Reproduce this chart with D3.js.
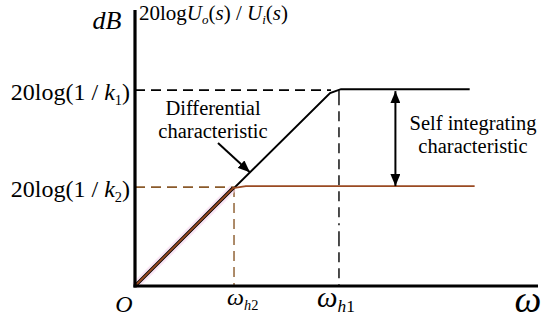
<!DOCTYPE html>
<html><head><meta charset="utf-8">
<script src="https://cdn.jsdelivr.net/npm/d3@7"></script>
<style>html,body{margin:0;padding:0;background:#fff;}svg{display:block;}</style>
</head><body>
<svg id="c" width="550" height="324"></svg>
<script>
// ---- data (normalized units: ω_h2 = 1, 20log(1/k2) = 1) ----
const freqNames = ["h2", "h1"];
const freqValues = [1.0, 2.06];
const levelNames = ["2", "1"];
const levelValues = [1.0, 1.98];
const blackCurve = [[0,0],[1.97,1.95],[2.08,1.99],[3.38,1.99]];
const redCurve = [[0,0],[0.99,0.99],[1.12,1.01],[3.43,1.01]];
const xMax = 4.07, yMax = 2.79;

const svg = d3.select("#c");
const x = d3.scaleLinear().domain([0, xMax]).range([135, 538]);
const y = d3.scaleLinear().domain([0, yMax]).range([286, 10]);
const serif = "'Liberation Serif','Times New Roman',serif";
const brown = "#9a4a22";
const dashBrown = "#8a5a2a";

// dashed guide lines
svg.append("line").attr("x1", x(0)).attr("x2", x(freqValues[1]) - 8)
  .attr("y1", y(levelValues[1])).attr("y2", y(levelValues[1]))
  .attr("stroke", "#000").attr("stroke-width", 1.6).attr("stroke-dasharray", "10,6");
svg.append("line").attr("x1", x(0)).attr("x2", x(freqValues[0]))
  .attr("y1", y(levelValues[0])).attr("y2", y(levelValues[0]))
  .attr("stroke", dashBrown).attr("stroke-width", 1.6).attr("stroke-dasharray", "10,6");
svg.append("line").attr("x1", x(freqValues[0])).attr("x2", x(freqValues[0]))
  .attr("y1", y(levelValues[0])).attr("y2", y(0))
  .attr("stroke", dashBrown).attr("stroke-width", 1.4).attr("stroke-dasharray", "10,6");
svg.append("line").attr("x1", x(freqValues[1])).attr("x2", x(freqValues[1]))
  .attr("y1", y(levelValues[1])).attr("y2", y(0))
  .attr("stroke", "#000").attr("stroke-width", 1.4).attr("stroke-dasharray", "15,6,10,6,10,6,10,6,10,6,10,6,10,6,10,6,2,6");

const line = d3.line().x(d => x(d[0])).y(d => y(d[1])).curve(d3.curveLinear);
svg.append("path").attr("d", line(blackCurve)).attr("fill", "none")
  .attr("stroke", "#000").attr("stroke-width", 2);
svg.append("path").attr("d", line(redCurve.slice(0,2))).attr("fill", "none")
  .attr("stroke", "#f6d6ee").attr("stroke-width", 8).attr("opacity", 0.6);
svg.append("path").attr("d", line(redCurve.slice(0,2))).attr("fill", "none")
  .attr("stroke", "#000").attr("stroke-width", 3.4);
svg.append("path").attr("d", line(redCurve)).attr("fill", "none")
  .attr("stroke", brown).attr("stroke-width", 1.8);

// axes
svg.append("line").attr("x1", x(0)).attr("x2", x(0)).attr("y1", y(yMax)).attr("y2", y(0) + 1.5)
  .attr("stroke", "#000").attr("stroke-width", 3.2);
svg.append("line").attr("x1", x(0) - 1.5).attr("x2", x(xMax)).attr("y1", y(0)).attr("y2", y(0))
  .attr("stroke", "#000").attr("stroke-width", 3.2);

// arrows
const defs = svg.append("defs");
defs.append("marker").attr("id", "ah").attr("viewBox", "0 0 12 10").attr("refX", 12).attr("refY", 5)
  .attr("markerWidth", 12).attr("markerHeight", 10).attr("markerUnits", "userSpaceOnUse").attr("orient", "auto-start-reverse")
  .append("path").attr("d", "M0,0 L12,5 L0,10 Z").attr("fill", "#000");
const ax = x(2.63);
svg.append("line").attr("x1", ax).attr("x2", ax).attr("y1", y(levelValues[1]) + 1).attr("y2", y(levelValues[0]) - 1)
  .attr("stroke", "#000").attr("stroke-width", 2)
  .attr("marker-start", "url(#ah)").attr("marker-end", "url(#ah)");
svg.append("line").attr("x1", 218).attr("y1", 143).attr("x2", x(1.16)).attr("y2", y(1.15))
  .attr("stroke", "#000").attr("stroke-width", 2).attr("marker-end", "url(#ah)");

// texts
function mathLabel(xp, yp, sub, anchor, size) {
  const t = svg.append("text").attr("x", xp).attr("y", yp).attr("text-anchor", anchor)
    .attr("font-family", serif).attr("font-size", size).attr("fill", "#000");
  t.append("tspan").text("20log(1 / ");
  t.append("tspan").attr("font-style", "italic").text("k");
  t.append("tspan").attr("font-size", size * 0.6).attr("dy", 5).text(sub);
  t.append("tspan").attr("dy", -5).text(")");
}
levelValues.forEach((v, i) => mathLabel(130, y(v) + 10, levelNames[i], "end", 24));

svg.append("text").attr("x", 107).attr("y", 29).attr("text-anchor", "middle")
  .attr("font-family", serif).attr("font-style", "italic").attr("font-size", 26).text("dB");
const tt = svg.append("text").attr("x", 139).attr("y", 20).attr("font-family", serif).attr("font-size", 21);
tt.append("tspan").text("20log");
tt.append("tspan").attr("font-style", "italic").text("U");
tt.append("tspan").attr("font-style", "italic").attr("font-size", 13).attr("dy", 4).text("o");
tt.append("tspan").attr("dy", -4).text("(");
tt.append("tspan").attr("font-style", "italic").text("s");
tt.append("tspan").text(") / ");
tt.append("tspan").attr("font-style", "italic").text("U");
tt.append("tspan").attr("font-style", "italic").attr("font-size", 13).attr("dy", 4).text("i");
tt.append("tspan").attr("dy", -4).text("(");
tt.append("tspan").attr("font-style", "italic").text("s");
tt.append("tspan").text(")");

svg.append("text").attr("x", 124).attr("y", 312).attr("text-anchor", "middle")
  .attr("font-family", serif).attr("font-style", "italic").attr("font-size", 24).text("O");
const fsz = [24, 29];
const fx = [-7, -22];
freqValues.forEach((v, i) => {
  const t = svg.append("text").attr("x", x(v) + fx[i]).attr("y", 305 + i * 2).attr("text-anchor", "start")
    .attr("font-family", serif).attr("font-style", "italic").attr("font-size", fsz[i]);
  t.append("tspan").text("ω");
  t.append("tspan").attr("font-size", fsz[i] * 0.6).attr("dy", 5).text(freqNames[i][0]);
  t.append("tspan").attr("font-size", fsz[i] * 0.6).attr("font-style", "normal").text(freqNames[i].slice(1));
});
svg.append("text").attr("x", 528).attr("y", 312).attr("text-anchor", "middle")
  .attr("font-family", serif).attr("font-style", "italic").attr("font-size", 38).text("ω");

const note = (lines, cx, y0) => lines.forEach((s, i) => svg.append("text").attr("x", cx).attr("y", y0 + i * 23)
  .attr("text-anchor", "middle").attr("font-family", serif).attr("font-size", 20.5).text(s));
note(["Differential", "characteristic"], 213, 115);
note(["Self integrating", "characteristic"], 473, 130);
</script>
</body></html>
